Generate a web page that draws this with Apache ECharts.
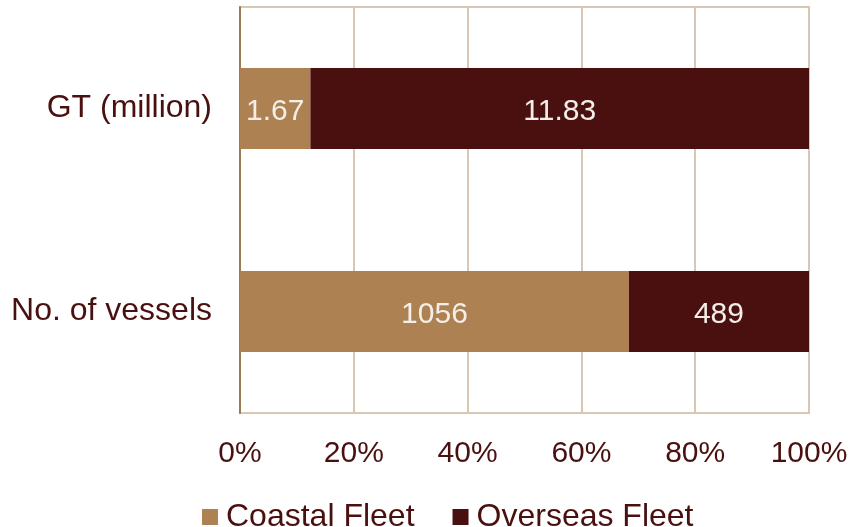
<!DOCTYPE html>
<html><head><meta charset="utf-8">
<script src="https://cdn.jsdelivr.net/npm/echarts@6/dist/echarts.min.js"></script>
<style>html,body{margin:0;padding:0;background:#fff}#c{width:853px;height:527px}</style>
</head><body><div id="c"></div>
<script>
const categories = ['No. of vessels', 'GT (million)'];
const coastal = [1056, 1.67];
const overseas = [489, 11.83];
const xTicks = [0, 20, 40, 60, 80, 100];

const totals = categories.map((c, i) => coastal[i] + overseas[i]);
const pct = (arr) => arr.map((v, i) => ({ value: v / totals[i] * 100, raw: v }));
const font = 'Liberation Sans, Arial, sans-serif';
const chart = echarts.init(document.getElementById('c'));
chart.setOption({
  animation: false,
  grid: { left: 240, right: 44, top: 7, bottom: 114, show: true, borderColor: '#D9C7B3', borderWidth: 2 },
  legend: {
    left: 197, top: 496, itemWidth: 16, itemHeight: 16, itemGap: 38,
    icon: 'rect',
    textStyle: { fontFamily: font, fontSize: 32, color: '#4A1010', padding: [0, 0, 0, 3] },
    data: ['Coastal Fleet', 'Overseas Fleet']
  },
  xAxis: {
    type: 'value', min: 0, max: 100, interval: 20,
    axisLine: { show: false }, axisTick: { show: false },
    axisLabel: { fontFamily: font, fontSize: 30, color: '#4A1010', margin: 26, formatter: v => xTicks.includes(v) ? v + '%' : '' },
    splitLine: { lineStyle: { color: '#D9C7B3', width: 2 } }
  },
  yAxis: {
    type: 'category', data: categories,
    axisLine: { lineStyle: { color: '#9C7A56', width: 2 } },
    axisTick: { show: false },
    axisLabel: { fontFamily: font, fontSize: 32, color: '#4A1010', margin: 28, padding: [6, 0, 0, 0] }
  },
  series: [
    { name: 'Coastal Fleet', type: 'bar', stack: 's', barWidth: '40%', data: pct(coastal),
      itemStyle: { color: '#AD8152' },
      label: { show: true, position: 'inside', offset: [0, 3], fontFamily: font, fontSize: 30, color: '#F4EEE8', formatter: p => p.data.raw } },
    { name: 'Overseas Fleet', type: 'bar', stack: 's', barWidth: '40%', data: pct(overseas),
      itemStyle: { color: '#4A1010' },
      label: { show: true, position: 'inside', offset: [0, 3], fontFamily: font, fontSize: 30, color: '#F4EEE8', formatter: p => p.data.raw } }
  ]
});
</script></body></html>
